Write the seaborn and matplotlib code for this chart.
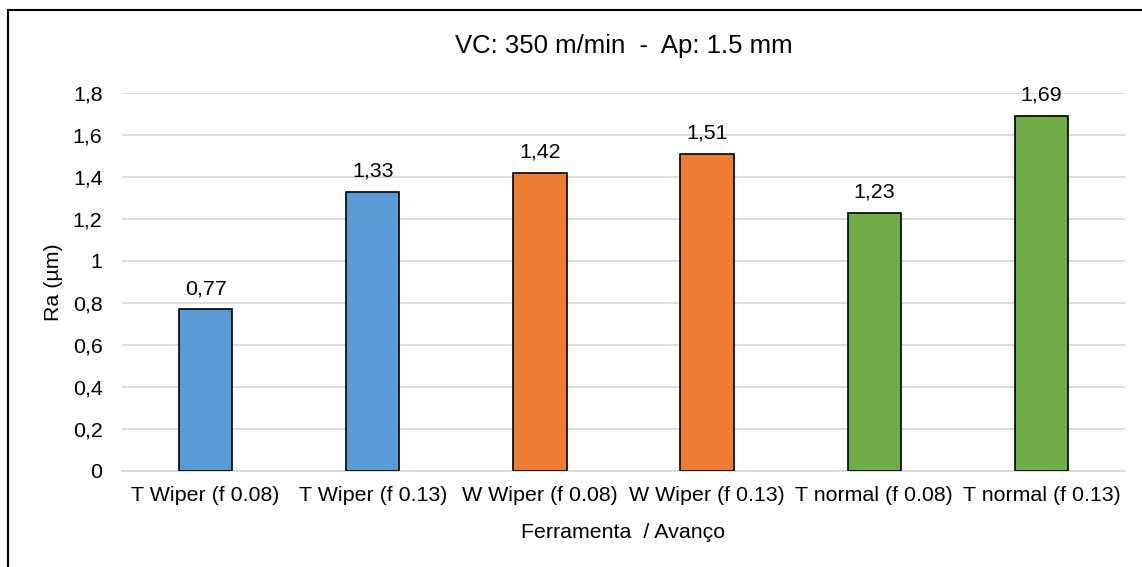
import matplotlib
matplotlib.use("Agg")
import matplotlib.pyplot as plt
import matplotlib.patches as mpatches
from matplotlib.ticker import FuncFormatter, MultipleLocator
import seaborn as sns
import pandas as pd

categories = ["T Wiper (f 0.08)", "T Wiper (f 0.13)", "W Wiper (f 0.08)",
              "W Wiper (f 0.13)", "T normal (f 0.08)", "T normal (f 0.13)"]
values = [0.77, 1.33, 1.42, 1.51, 1.23, 1.69]
bar_colors = ["#5B9BD5", "#5B9BD5", "#ED7D31", "#ED7D31", "#70AD47", "#70AD47"]
title = "VC: 350 m/min  -  Ap: 1.5 mm"
xlabel = "Ferramenta  / Avanço"
ylabel = "Ra (µm)"

sns.set_theme(style="white")
plt.rcParams["font.family"] = ["Liberation Sans", "DejaVu Sans"]

W, H = 1142, 567
fig = plt.figure(figsize=(W / 100, H / 100), dpi=100)
left, right, top, bottom = 122, 1125, 93, 471
ax = fig.add_axes([left / W, (H - bottom) / H, (right - left) / W, (bottom - top) / H])

df = pd.DataFrame({"cat": categories, "val": values})
sns.barplot(data=df, x="cat", y="val", hue="cat", palette=bar_colors,
            saturation=1, width=0.32, edgecolor="black", linewidth=1.2,
            legend=False, ax=ax, zorder=3)

ax.set_ylim(0, 1.8)
ax.yaxis.set_major_locator(MultipleLocator(0.2))

def fmt(v, pos):
    s = f"{v:.1f}"
    if s.endswith(".0"):
        s = s[:-2]
    return s.replace(".", ",")

ax.yaxis.set_major_formatter(FuncFormatter(fmt))
ax.grid(axis="y", color="#D9D9D9", linewidth=1.3, zorder=0)
ax.grid(axis="x", visible=False)
for s in ["top", "right", "left"]:
    ax.spines[s].set_visible(False)
ax.spines["bottom"].set_color("#D9D9D9")
ax.spines["bottom"].set_linewidth(1.3)
ax.tick_params(axis="both", length=0, labelsize=15.4, colors="#000000")
ax.tick_params(axis="x", pad=11)
ax.tick_params(axis="y", pad=14)

for i, v in enumerate(values):
    ax.annotate(f"{v:.2f}".replace(".", ","), xy=(i, v), xytext=(0, 8),
                textcoords="offset points", ha="center", va="bottom",
                fontsize=15.4, color="#000000")

ax.set_xlabel(xlabel, fontsize=15.4, color="#000000", va="center")
ax.xaxis.set_label_coords(0.5, (bottom - 532) / (bottom - top))
ax.set_ylabel(ylabel, fontsize=15.4, color="#000000", va="center")
ax.yaxis.set_label_coords((53 - left) / (right - left), 0.5)
ax.set_title(title, fontsize=18.5, color="#000000", va="center",
             y=1 + (top - 54) / (bottom - top))

border = mpatches.Rectangle((7.5 / W, -0.1), 1.2, 1.1 - 9.5 / H,
                            transform=fig.transFigure, fill=False,
                            edgecolor="black", linewidth=1.5, clip_on=False)
fig.patches.append(border)

fig.savefig("out.png", dpi=100, facecolor="white")
